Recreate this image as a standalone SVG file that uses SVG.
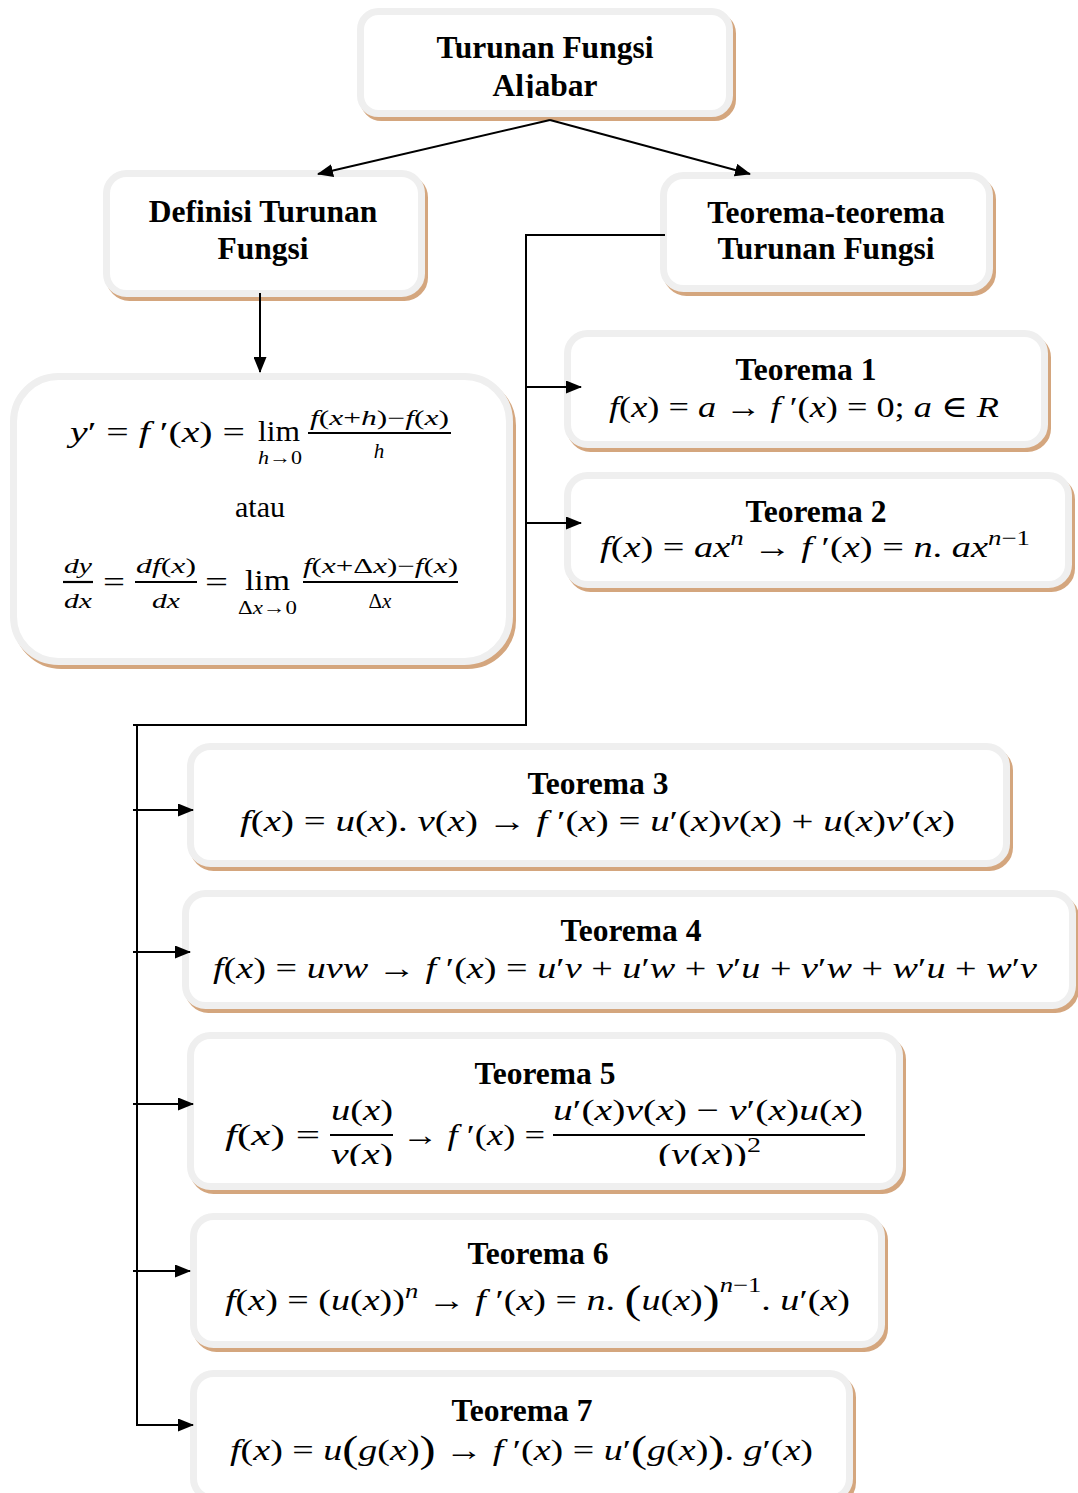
<svg xmlns="http://www.w3.org/2000/svg" width="1078" height="1493" viewBox="0 0 1078 1493">
<defs>
<style>
.sh{fill:#d4a67e;stroke:#d4a67e;stroke-width:7}
.bx{fill:#fff;stroke:#efefef;stroke-width:7}
.t{font-family:"Liberation Serif","Times New Roman",serif;font-weight:bold;font-size:31.5px;text-anchor:middle;fill:#000}
.m{font-family:"Liberation Serif","DejaVu Serif",serif;font-size:30px;fill:#000}
.mc{text-anchor:middle}
.s{font-size:21px}
.sub{font-size:19px}
.i{font-style:italic}
.c{fill:none;stroke:#000;stroke-width:2}
.bar{stroke:#000;stroke-width:2.2}
</style>
<marker id="ah" markerUnits="userSpaceOnUse" markerWidth="16" markerHeight="13" refX="15" refY="6.5" orient="auto"><path d="M0,0 L16,6.5 L0,13 z" fill="#000"/></marker>
<clipPath id="clipTop"><rect x="350" y="0" width="400" height="98"/></clipPath>
<clipPath id="clipT5"><rect x="180" y="1020" width="740" height="146"/></clipPath>
</defs>
<rect width="1078" height="1493" fill="#fff"/>

<g id="node-turunan-fungsi-aljabar">
<rect class="sh" x="360.5" y="11.5" width="369" height="102" rx="18" transform="translate(3,4)"/>
<rect class="bx" x="360.5" y="11.5" width="369" height="102" rx="18"/>
<g clip-path="url(#clipTop)">
<text class="t" x="545" y="58">Turunan Fungsi</text>
<text class="t" x="545" y="96">Aljabar</text>
</g>
</g>

<g id="node-definisi">
<rect class="sh" x="106.5" y="173.5" width="315" height="120" rx="20" transform="translate(3,4)"/>
<rect class="bx" x="106.5" y="173.5" width="315" height="120" rx="20"/>
<text class="t" x="263" y="222">Definisi Turunan</text>
<text class="t" x="263" y="259">Fungsi</text>
</g>

<g id="node-teorema-teorema">
<rect class="sh" x="663.5" y="175.5" width="326" height="113" rx="20" transform="translate(3,4)"/>
<rect class="bx" x="663.5" y="175.5" width="326" height="113" rx="20"/>
<text class="t" x="826" y="223">Teorema-teorema</text>
<text class="t" x="826" y="259">Turunan Fungsi</text>
</g>

<g id="node-definisi-formula">
<rect class="sh" x="13.5" y="376.5" width="496" height="285" rx="45" transform="translate(3,4)"/>
<rect class="bx" x="13.5" y="376.5" width="496" height="285" rx="45"/>
<text class="m" x="70" y="442" textLength="175" lengthAdjust="spacingAndGlyphs"><tspan class="i">y</tspan>′ = <tspan class="i">f</tspan> ′(<tspan class="i">x</tspan>) =</text>
<text class="m" x="258" y="441" textLength="42" lengthAdjust="spacingAndGlyphs">lim</text>
<text class="m sub" x="258" y="464" textLength="44" lengthAdjust="spacingAndGlyphs"><tspan class="i">h</tspan>→0</text>
<text class="m s" x="310" y="425" textLength="139" lengthAdjust="spacingAndGlyphs"><tspan class="i">f</tspan>(<tspan class="i">x</tspan>+<tspan class="i">h</tspan>)−<tspan class="i">f</tspan>(<tspan class="i">x</tspan>)</text>
<line class="bar" x1="308" y1="433" x2="451" y2="433"/>
<text class="m s mc i" x="379" y="458">h</text>
<text class="m mc" x="260" y="517" font-size="28">atau</text>
<text class="m s mc i" x="78" y="573" textLength="28" lengthAdjust="spacingAndGlyphs">dy</text>
<line class="bar" x1="63" y1="582" x2="93" y2="582"/>
<text class="m s mc i" x="78" y="608" textLength="28" lengthAdjust="spacingAndGlyphs">dx</text>
<text class="m" x="103" y="592" textLength="22" lengthAdjust="spacingAndGlyphs">=</text>
<text class="m s" x="136" y="573" textLength="60" lengthAdjust="spacingAndGlyphs"><tspan class="i">df</tspan>(<tspan class="i">x</tspan>)</text>
<line class="bar" x1="135" y1="582" x2="197" y2="582"/>
<text class="m s mc i" x="166" y="608" textLength="28" lengthAdjust="spacingAndGlyphs">dx</text>
<text class="m" x="205" y="592" textLength="23" lengthAdjust="spacingAndGlyphs">=</text>
<text class="m" x="245" y="590" textLength="45" lengthAdjust="spacingAndGlyphs">lim</text>
<text class="m sub" x="238" y="614" textLength="59" lengthAdjust="spacingAndGlyphs">Δ<tspan class="i">x</tspan>→0</text>
<text class="m s" x="303" y="573" textLength="155" lengthAdjust="spacingAndGlyphs"><tspan class="i">f</tspan>(<tspan class="i">x</tspan>+Δ<tspan class="i">x</tspan>)−<tspan class="i">f</tspan>(<tspan class="i">x</tspan>)</text>
<line class="bar" x1="303" y1="582" x2="458" y2="582"/>
<text class="m s mc" x="380" y="608">Δ<tspan class="i">x</tspan></text>
</g>

<g id="node-teorema-1">
<rect class="sh" x="567.5" y="333.5" width="477" height="111" rx="20" transform="translate(3,4)"/>
<rect class="bx" x="567.5" y="333.5" width="477" height="111" rx="20"/>
<text class="t" x="806" y="380">Teorema 1</text>
<text class="m" x="609" y="417" textLength="390" lengthAdjust="spacingAndGlyphs"><tspan class="i">f</tspan>(<tspan class="i">x</tspan>) = <tspan class="i">a</tspan> → <tspan class="i">f</tspan> ′(<tspan class="i">x</tspan>) = 0; <tspan class="i">a</tspan> ∈ <tspan class="i">R</tspan></text>
</g>

<g id="node-teorema-2">
<rect class="sh" x="567.5" y="475.5" width="501" height="109" rx="20" transform="translate(3,4)"/>
<rect class="bx" x="567.5" y="475.5" width="501" height="109" rx="20"/>
<text class="t" x="816" y="522">Teorema 2</text>
<text class="m" x="600" y="557" textLength="430" lengthAdjust="spacingAndGlyphs"><tspan class="i">f</tspan>(<tspan class="i">x</tspan>) = <tspan class="i">ax</tspan><tspan class="s i" dy="-12">n</tspan><tspan dy="12"> → </tspan><tspan class="i">f</tspan> ′(<tspan class="i">x</tspan>) = <tspan class="i">n</tspan>. <tspan class="i">ax</tspan><tspan class="s" dy="-12"><tspan class="i">n</tspan>−1</tspan></text>
</g>

<g id="node-teorema-3">
<rect class="sh" x="190.5" y="746.5" width="816" height="117" rx="20" transform="translate(3,4)"/>
<rect class="bx" x="190.5" y="746.5" width="816" height="117" rx="20"/>
<text class="t" x="598" y="794">Teorema 3</text>
<text class="m" x="240" y="831" textLength="715" lengthAdjust="spacingAndGlyphs"><tspan class="i">f</tspan>(<tspan class="i">x</tspan>) = <tspan class="i">u</tspan>(<tspan class="i">x</tspan>). <tspan class="i">v</tspan>(<tspan class="i">x</tspan>) → <tspan class="i">f</tspan> ′(<tspan class="i">x</tspan>) = <tspan class="i">u</tspan>′(<tspan class="i">x</tspan>)<tspan class="i">v</tspan>(<tspan class="i">x</tspan>) + <tspan class="i">u</tspan>(<tspan class="i">x</tspan>)<tspan class="i">v</tspan>′(<tspan class="i">x</tspan>)</text>
</g>

<g id="node-teorema-4">
<rect class="sh" x="185.5" y="893.5" width="887" height="112" rx="20" transform="translate(3,4)"/>
<rect class="bx" x="185.5" y="893.5" width="887" height="112" rx="20"/>
<text class="t" x="631" y="941">Teorema 4</text>
<text class="m" x="213" y="978" textLength="824" lengthAdjust="spacingAndGlyphs"><tspan class="i">f</tspan>(<tspan class="i">x</tspan>) = <tspan class="i">uvw</tspan> → <tspan class="i">f</tspan> ′(<tspan class="i">x</tspan>) = <tspan class="i">u</tspan>′<tspan class="i">v</tspan> + <tspan class="i">u</tspan>′<tspan class="i">w</tspan> + <tspan class="i">v</tspan>′<tspan class="i">u</tspan> + <tspan class="i">v</tspan>′<tspan class="i">w</tspan> + <tspan class="i">w</tspan>′<tspan class="i">u</tspan> + <tspan class="i">w</tspan>′<tspan class="i">v</tspan></text>
</g>

<g id="node-teorema-5">
<rect class="sh" x="190.5" y="1035.5" width="709" height="151" rx="20" transform="translate(3,4)"/>
<rect class="bx" x="190.5" y="1035.5" width="709" height="151" rx="20"/>
<text class="t" x="545" y="1084">Teorema 5</text>
<g clip-path="url(#clipT5)">
<text class="m" x="225" y="1145" textLength="95" lengthAdjust="spacingAndGlyphs"><tspan class="i">f</tspan>(<tspan class="i">x</tspan>) =</text>
<text class="m" x="331" y="1120" textLength="62" lengthAdjust="spacingAndGlyphs"><tspan class="i">u</tspan>(<tspan class="i">x</tspan>)</text>
<line class="bar" x1="330" y1="1135" x2="393" y2="1135"/>
<text class="m" x="331" y="1164" textLength="62" lengthAdjust="spacingAndGlyphs"><tspan class="i">v</tspan>(<tspan class="i">x</tspan>)</text>
<text class="m" x="402" y="1145" textLength="143" lengthAdjust="spacingAndGlyphs">→ <tspan class="i">f</tspan> ′(<tspan class="i">x</tspan>) =</text>
<text class="m" x="553" y="1120" textLength="310" lengthAdjust="spacingAndGlyphs"><tspan class="i">u</tspan>′(<tspan class="i">x</tspan>)<tspan class="i">v</tspan>(<tspan class="i">x</tspan>) − <tspan class="i">v</tspan>′(<tspan class="i">x</tspan>)<tspan class="i">u</tspan>(<tspan class="i">x</tspan>)</text>
<line class="bar" x1="553" y1="1135" x2="865" y2="1135"/>
<text class="m" x="658" y="1164" textLength="103" lengthAdjust="spacingAndGlyphs">(<tspan class="i">v</tspan>(<tspan class="i">x</tspan>))<tspan class="s" dy="-12">2</tspan></text>
</g>
</g>

<g id="node-teorema-6">
<rect class="sh" x="193.5" y="1216.5" width="688" height="128" rx="20" transform="translate(3,4)"/>
<rect class="bx" x="193.5" y="1216.5" width="688" height="128" rx="20"/>
<text class="t" x="538" y="1264">Teorema 6</text>
<text class="m" x="225" y="1310" textLength="625" lengthAdjust="spacingAndGlyphs"><tspan class="i">f</tspan>(<tspan class="i">x</tspan>) = (<tspan class="i">u</tspan>(<tspan class="i">x</tspan>))<tspan class="s i" dy="-12">n</tspan><tspan dy="12"> → </tspan><tspan class="i">f</tspan> ′(<tspan class="i">x</tspan>) = <tspan class="i">n</tspan>. <tspan font-size="40" dy="3">(</tspan><tspan class="i" dy="-3">u</tspan>(<tspan class="i">x</tspan>)<tspan font-size="40" dy="3">)</tspan><tspan class="s" dy="-21"><tspan class="i">n</tspan>−1</tspan><tspan dy="18">. </tspan><tspan class="i">u</tspan>′(<tspan class="i">x</tspan>)</text>
</g>

<g id="node-teorema-7">
<rect class="sh" x="193.5" y="1373.5" width="656" height="125" rx="20" transform="translate(3,4)"/>
<rect class="bx" x="193.5" y="1373.5" width="656" height="125" rx="20"/>
<text class="t" x="522" y="1421">Teorema 7</text>
<text class="m" x="230" y="1460" textLength="583" lengthAdjust="spacingAndGlyphs"><tspan class="i">f</tspan>(<tspan class="i">x</tspan>) = <tspan class="i">u</tspan><tspan font-size="38" dy="2">(</tspan><tspan class="i" dy="-2">g</tspan>(<tspan class="i">x</tspan>)<tspan font-size="38" dy="2">)</tspan><tspan dy="-2"> → </tspan><tspan class="i">f</tspan> ′(<tspan class="i">x</tspan>) = <tspan class="i">u</tspan>′<tspan font-size="38" dy="2">(</tspan><tspan class="i" dy="-2">g</tspan>(<tspan class="i">x</tspan>)<tspan font-size="38" dy="2">)</tspan><tspan dy="-2">. </tspan><tspan class="i">g</tspan>′(<tspan class="i">x</tspan>)</text>
</g>

<g id="connectors">
<path class="c" d="M550,120 L318,174" marker-end="url(#ah)"/>
<path class="c" d="M550,120 L750,174" marker-end="url(#ah)"/>
<path class="c" d="M260,293 V372" marker-end="url(#ah)"/>
<path class="c" d="M665,235 H526 V725 H133"/>
<path class="c" d="M526,387 H581" marker-end="url(#ah)"/>
<path class="c" d="M526,523 H581" marker-end="url(#ah)"/>
<path class="c" d="M137,725 V1425 H193" marker-end="url(#ah)"/>
<path class="c" d="M133,810 H193" marker-end="url(#ah)"/>
<path class="c" d="M133,952 H190" marker-end="url(#ah)"/>
<path class="c" d="M133,1104 H193" marker-end="url(#ah)"/>
<path class="c" d="M133,1271 H190" marker-end="url(#ah)"/>
</g>
</svg>
